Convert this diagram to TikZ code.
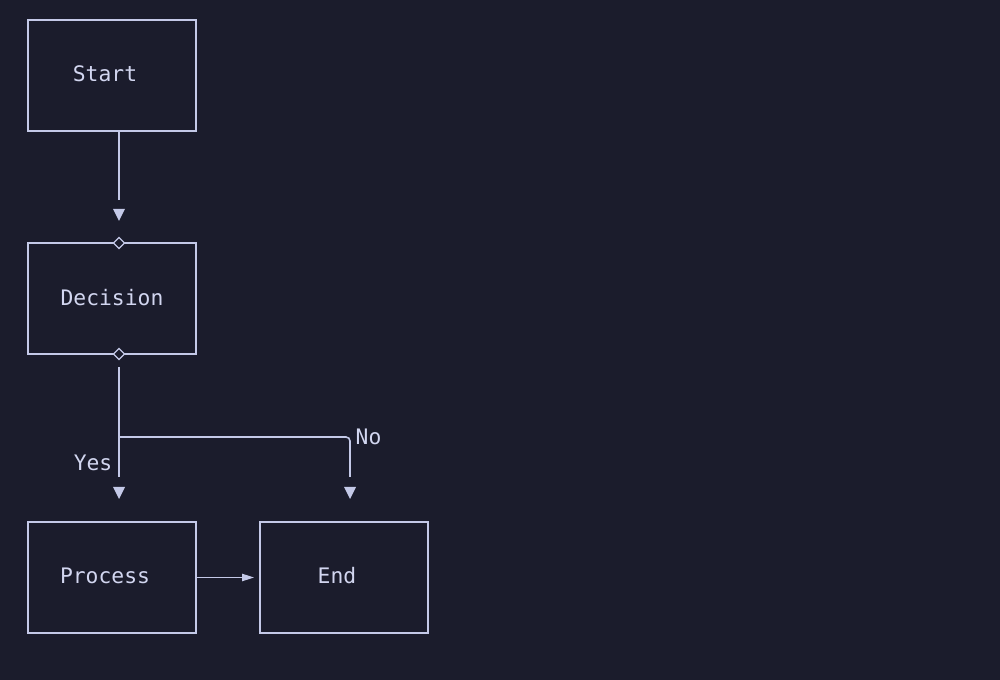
\documentclass[tikz,border=0pt]{standalone}
\usepackage{fontspec}
\setmonofont{DejaVu Sans Mono}
\usetikzlibrary{positioning,shapes.geometric,arrows.meta}
\definecolor{cBg}{RGB}{27,28,44}
\definecolor{cFg}{RGB}{196,201,232}
\definecolor{cTx}{RGB}{210,214,240}
\tikzset{mybox/.style={
  shape=rectangle,
  draw=cFg,
  line width=1.2pt,
  minimum width=126pt,
  minimum height=83.25pt,
  inner sep=0pt,
  outer sep=0pt,
  }
}
\tikzset{myknob/.style={
  shape=diamond,
  draw=cFg,
  fill=cBg,
  line width=0.9pt,
  minimum size=8.5pt,
  inner sep=0pt,
  }
}
\tikzset{mytext/.style={text=cTx, font=\ttfamily\fontsize{16}{19}\selectfont}}
\tikzset{mywire/.style={draw=cFg, line width=1.2pt}}
\tikzset{mytip/.pic={\fill[cFg] (-6,-6) -- (6,-6) -- (0,6) -- cycle;}}

\begin{document}
\begin{tikzpicture}[x=0.75pt, y=-0.75pt]
  \fill[cBg] (0,0) rectangle (1000,680);
  \useasboundingbox (0,0) rectangle (1000,680);

  \node [mybox, label={[mytext, xshift=-5.25pt, yshift=1pt]center:Start}] (start) at (112,75.5) {};
  \node [mybox, label={[mytext, yshift=1pt]center:Decision}, below=84pt of start] (decision) {};
  \node [mybox, label={[mytext, xshift=-5.25pt, yshift=1.2pt]center:Process}, below=126pt of decision] (process) {};
  \node [mybox, label={[mytext, xshift=-5.25pt, yshift=1.2pt]center:End}, right=48pt of process] (done) {};

  \coordinate (a1) at (119,131);
  \coordinate (a2) at (119,200);
  \coordinate (b1) at (119,367);
  \coordinate (b2) at (119,477);
  \coordinate (b3) at (119,437);
  \coordinate (c1) at (350,477);

  \node [myknob] (k1) at (119,243) {};
  \node [myknob] (k2) at (119,354) {};

  % start -> decision
  \draw [mywire] (a1) -- (a2);
  \pic at (119,215) {mytip};

  % decision -> yes / no
  \draw [mywire] (b1) -- (b2);
  \draw [mywire, rounded corners=3pt] (b3) -- (350,437) -- (c1);
  \pic at (119,493) {mytip};
  \pic at (350,493) {mytip};
  \node [mytext, anchor=east] (yes) at (117,463) {Yes};
  \node [mytext, anchor=west] (no) at (351,437) {No};

  % process -> end
  \draw [mywire, -{Triangle[length=9pt,width=5.5pt]}, shorten >=4.5pt] (process) -- (done);
\end{tikzpicture}
\end{document}
